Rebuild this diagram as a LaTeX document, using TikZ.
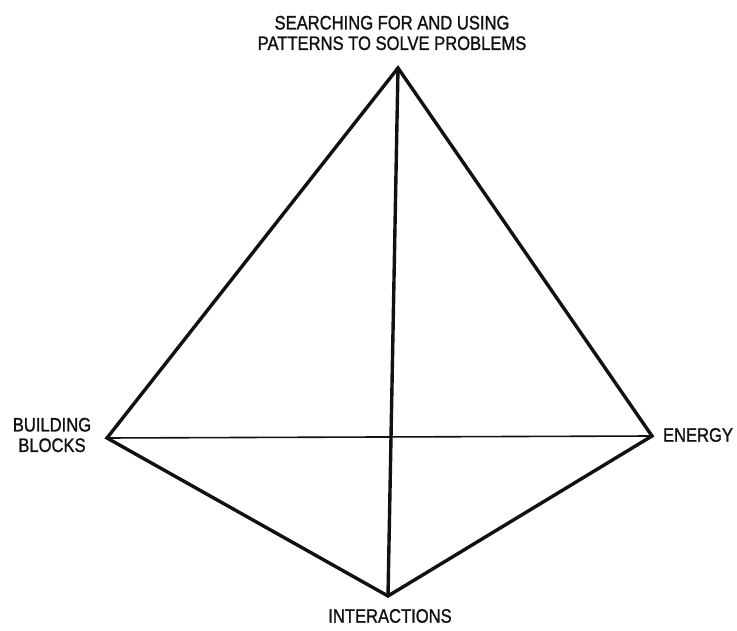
\documentclass[tikz,border=0pt]{standalone}
\usepackage{fontspec}
\setmainfont[FakeStretch=0.85,FakeBold=1.2]{Liberation Sans}
\usetikzlibrary{positioning}
\definecolor{Ink}{HTML}{111111}

\begin{document}
\begin{tikzpicture}[x=1pt,y=1pt,line cap=round,line join=miter,
  edge/.style={Ink,line width=3.4pt},
  rim/.style={Ink,line width=1.6pt},
  lbl/.style={font=\fontsize{19.5}{20.5}\selectfont,text=Ink,inner sep=0pt,align=center}]
  \useasboundingbox (0,0) rectangle (737,630);
  % corners of the tetrahedron, bottom one is the front corner
  \coordinate (apex) at (398,562);\coordinate (west) at (107,192);
  \coordinate (east) at (652,194);\coordinate (front) at (388,34);
  \draw[rim] (west) -- (east);
  \draw[edge] (west) -- (apex) -- (east) -- (front) -- cycle;
  \draw[edge] (apex) -- (front);
  \node[lbl] (search) at (392,597) {SEARCHING FOR AND USING\\PATTERNS TO SOLVE PROBLEMS};
  \node[lbl] (blocks) at (52,195) {BUILDING\\BLOCKS};
  \node[lbl] (energy) at (698,195) {ENERGY};
  \node[lbl] (inter) at (390,14) {INTERACTIONS};
\end{tikzpicture}
\end{document}
